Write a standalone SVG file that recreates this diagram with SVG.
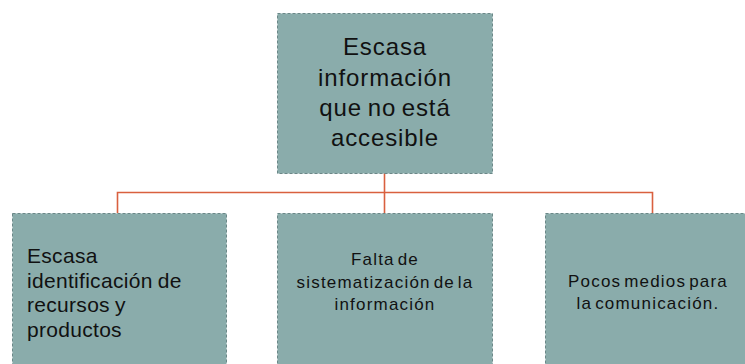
<svg xmlns="http://www.w3.org/2000/svg" width="745" height="364" viewBox="0 0 745 364">
<style>
.box{fill:#8aacab;stroke:#6b8888;stroke-width:1;stroke-dasharray:3 2}
.t{font-family:"Liberation Sans",Arial,sans-serif;fill:#111}
.top{font-size:24px;letter-spacing:0.9px;word-spacing:-2px;text-anchor:middle}
.left{font-size:21px;letter-spacing:0.3px;word-spacing:-1px}
.mid{font-size:17px;letter-spacing:1.2px;word-spacing:-3px;text-anchor:middle}
.conn{fill:none;stroke:#d9603f;stroke-width:1.6}
</style>
<rect width="745" height="364" fill="#ffffff"/>
<g id="connectors">
<path class="conn" d="M384.5,173 V192.5 M117.5,213 V192.5 H652.5 V213 M384.5,192.5 V213"/>
</g>
<g id="node-top">
<rect class="box" x="277.5" y="13.5" width="215" height="160"/>
<text class="t top" x="385" y="55">Escasa</text>
<text class="t top" x="385" y="86">información</text>
<text class="t top" x="385" y="116">que no está</text>
<text class="t top" x="385" y="146">accesible</text>
</g>
<g id="node-left">
<rect class="box" x="12.5" y="213.5" width="214" height="160"/>
<text class="t left" x="27" y="263">Escasa</text>
<text class="t left" x="27" y="287.5">identificación de</text>
<text class="t left" x="27" y="312">recursos y</text>
<text class="t left" x="27" y="336.5">productos</text>
</g>
<g id="node-mid">
<rect class="box" x="277.5" y="213.5" width="215" height="160"/>
<text class="t mid" x="385" y="265">Falta de</text>
<text class="t mid" x="385" y="288">sistematización de la</text>
<text class="t mid" x="385" y="310">información</text>
</g>
<g id="node-right">
<rect class="box" x="545.5" y="213.5" width="215" height="160"/>
<text class="t mid" x="648" y="287">Pocos medios para</text>
<text class="t mid" x="648" y="309">la comunicación.</text>
</g>
</svg>
